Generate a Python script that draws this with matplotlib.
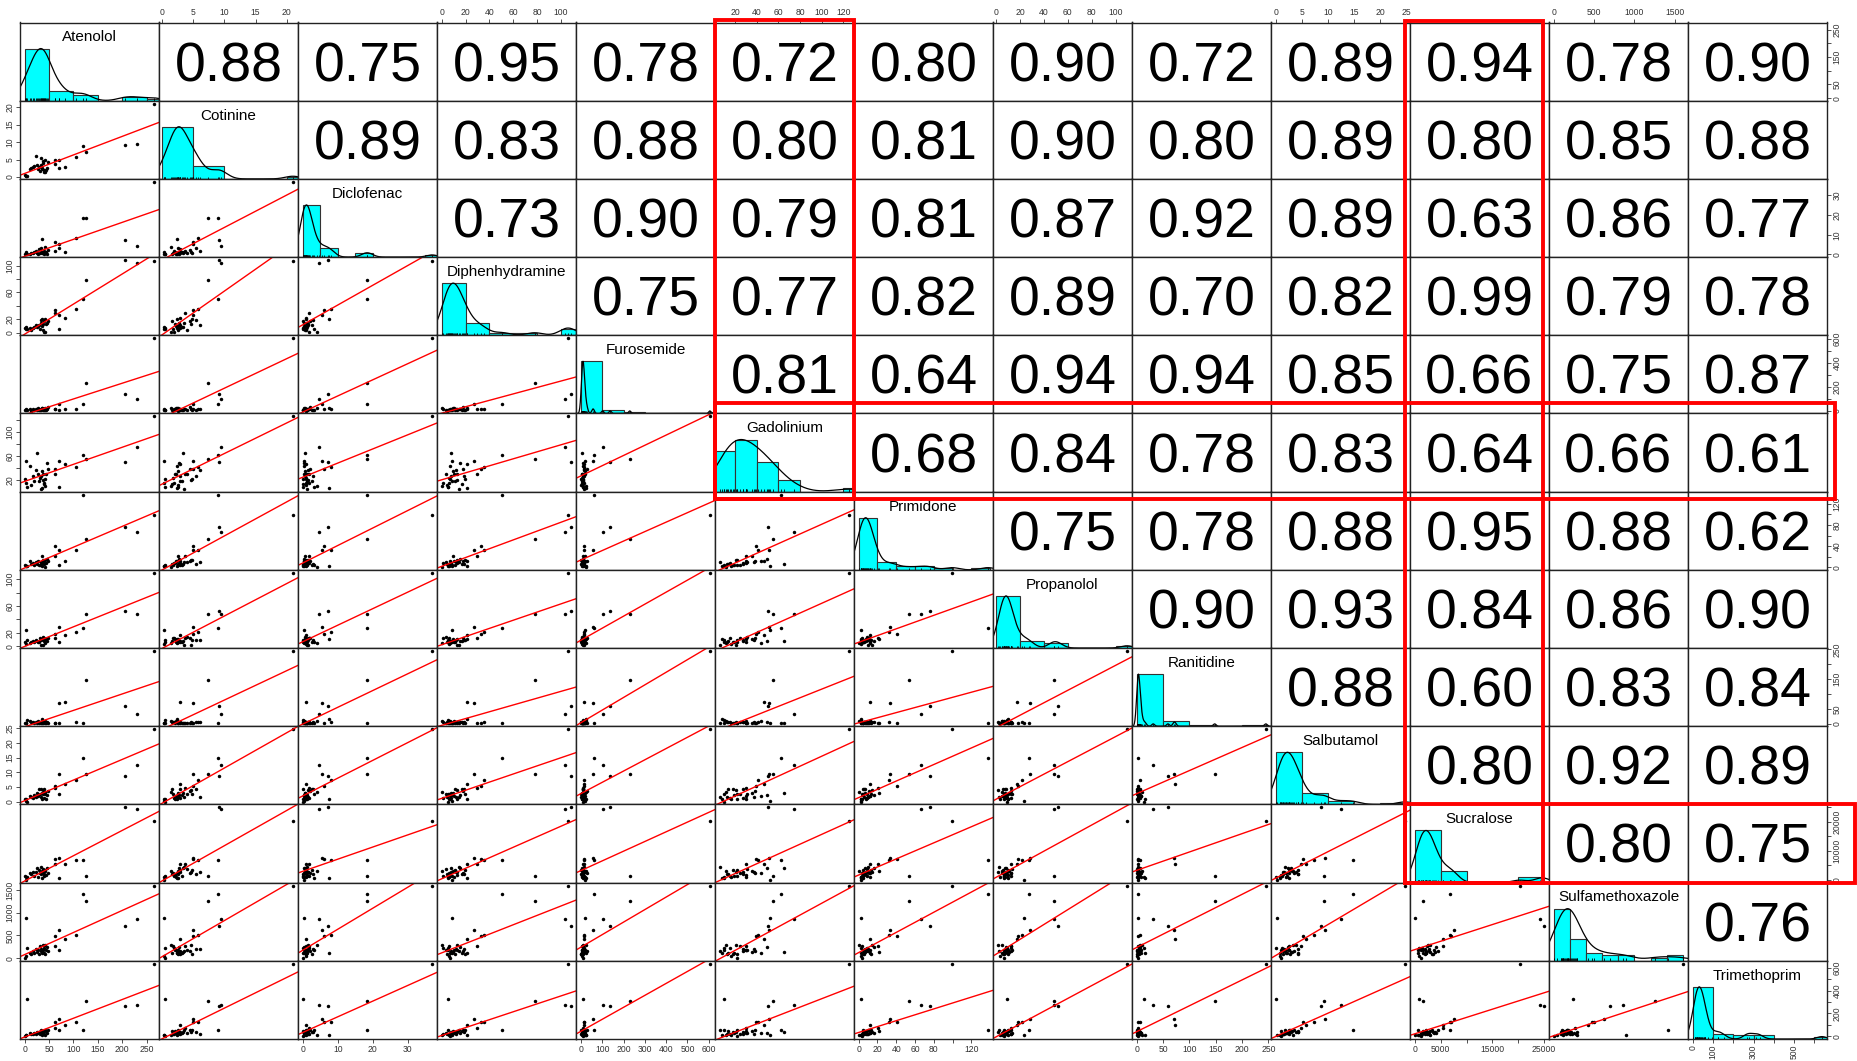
import numpy as np
import matplotlib
matplotlib.use("Agg")
import matplotlib.pyplot as plt
import matplotlib.transforms as mtransforms
from matplotlib.patches import Rectangle

plt.rcParams['font.family'] = ['Liberation Sans', 'DejaVu Sans']

names = ['Atenolol', 'Cotinine', 'Diclofenac', 'Diphenhydramine', 'Furosemide',
         'Gadolinium', 'Primidone', 'Propanolol', 'Ranitidine', 'Salbutamol',
         'Sucralose', 'Sulfamethoxazole', 'Trimethoprim']

# one value per sampling site, same site order in every list
atenolol = [2, 5, 1, 3, 11, 14, 17, 20, 23, 26, 28, 30, 31, 33, 34, 35, 36, 37, 38,
            39, 40, 41, 42, 44, 45, 48, 62, 63, 70, 71, 83, 105, 120, 125, 205, 230, 265]
cotinine = [0.3, 0.4, 0.5, 0.35, 2.4, 2.6, 2.8, 3.1, 6.1, 3.3, 2.2, 2.8, 1.8, 3.5, 5.4,
            2.5, 2.3, 4.6, 3.9, 1.5, 1.9, 4.8, 1.4, 2.0, 2.7, 4.4, 5.0, 3.6, 4.9, 2.5,
            2.9, 5.8, 9.0, 7.3, 9.2, 9.5, 21.0]
diclofenac = [0.3, 0.2, 0.1, 1.0, 0.4, 0.8, 0.6, 1.2, 1.5, 0.7, 0.3, 2.5, 0.9, 1.1, 3.0,
              0.5, 7.6, 1.4, 0.6, 0.2, 1.8, 0.9, 4.0, 1.3, 0.4, 2.2, 6.1, 1.8, 5.4, 3.2,
              1.0, 8.1, 18.5, 18.3, 7.1, 4.5, 36.9]
diphenhydramine = [8.4, 5.6, 7.0, 6.0, 6.5, 4.0, 7.5, 9.0, 12.0, 8.0, 10.0, 11.5, 6.0,
                   14.8, 18.3, 9.5, 20.8, 13.0, 3.9, 16.8, 0.9, 19.8, 0.3, 12.5, 15.0,
                   17.5, 33.2, 29.8, 26.8, 5.4, 21.3, 35.7, 50.7, 78.0, 108.5, 103.5, 106.5]
furosemide = [17, 8, 8, 3, 10, 0.5, 12, 6, 15, 4, 20, 9, 3, 14, 7, 18, 25, 11, 5, 8, 13,
              2, 22, 6, 10, 30, 15, 10, 54, 8, 12, 12, 59, 229, 137, 101, 605]
gadolinium = [52, 9.7, 22, 16, 44, 12, 27, 19, 37, 65, 30, 18, 24, 6, 27, 35.5, 8, 21,
              31, 13.5, 15, 22, 11, 30, 49, 38, 39, 30, 50.9, 9.6, 46.5, 41, 62, 55,
              50.4, 74, 125.2]
primidone = [2.9, 2.0, 4.0, 3.0, 11.7, 6.0, 8.0, 5.0, 9.5, 7.0, 12.0, 4.5, 3.5, 10.0,
             6.5, 21.9, 2.0, 14.0, 9.0, 5.5, 8.5, 13.0, 0.5, 7.5, 16.0, 11.0, 41.0, 20.6,
             33.3, 4.1, 12.4, 32.7, 137.5, 53.6, 75.9, 66.3, 99.4]
propanolol = [23.5, 9.0, 6.0, 3.0, 5.0, 6.0, 8.0, 6.0, 9.0, 7.0, 6.5, 5.5, 12.0, 2.0,
              8.5, 11.0, 10.0, 1.5, 13.0, 7.5, 12.5, 9.5, 4.5, 10.0, 8.0, 12.0, 18.5,
              12.0, 28.5, 6.0, 17.0, 21.5, 27.0, 48.5, 52.0, 48.0, 109.5]
ranitidine = [2.2, 13.4, 3.0, 1.0, 9.0, 4.0, 6.0, 2.0, 5.0, 3.0, 8.0, 1.5, 4.0, 2.5,
              6.0, 3.5, 16.8, 7.0, 1.0, 5.0, 4.5, 2.0, 10.0, 3.0, 6.0, 1.0, 3.0, 2.0,
              70.6, 3.0, 73.0, 5.6, 3.0, 148.0, 59.4, 31.4, 245.0]
salbutamol = [0.2, 0.1, 1.0, 0.8, 1.9, 1.5, 1.4, 2.2, 1.6, 3.0, 2.0, 4.2, 2.5, 1.8, 4.2,
              3.1, 0.9, 3.9, 2.6, 4.2, 1.2, 2.8, 3.3, 1.0, 2.4, 3.6, 5.3, 4.8, 9.5, 2.5,
              5.9, 7.4, 14.8, 9.3, 8.75, 12.5, 24.7]
sucralose = [60, 900, 1200, 900, 2250, 2000, 2825, 1500, 2825, 3970, 1100, 3500, 2400,
             4545, 1900, 3000, 700, 2600, 3800, 2100, 1300, 3300, 2900, 1600, 4000, 2200,
             7067, 5500, 7640, 530, 5350, 6838, 6838, 1500, 24950, 24270, 20256]
sulfamethoxazole = [893, 233, 5, 40, 107, 95, 150, 120, 200, 130, 178, 90, 271, 160,
                    210, 140, 120, 285, 180, 110, 230, 100, 285, 190, 250, 160, 478,
                    264, 621, 178, 428, 500, 1414, 1250, 700, 857, 1600]
trimethoprim = [13, 330, 0.5, 8, 25, 15, 19, 30, 22, 35, 28, 40, 20, 57, 33, 45, 10, 38,
                26, 48, 18, 52, 12, 42, 30, 55, 122, 72, 151, 57, 95, 125, 57, 312, 268,
                277, 638]

columns = [atenolol, cotinine, diclofenac, diphenhydramine, furosemide, gadolinium,
           primidone, propanolol, ranitidine, salbutamol, sucralose, sulfamethoxazole,
           trimethoprim]

# Pearson r, upper triangle row by row
cor_upper = [
    [0.88, 0.75, 0.95, 0.78, 0.72, 0.80, 0.90, 0.72, 0.89, 0.94, 0.78, 0.90],
    [0.89, 0.83, 0.88, 0.80, 0.81, 0.90, 0.80, 0.89, 0.80, 0.85, 0.88],
    [0.73, 0.90, 0.79, 0.81, 0.87, 0.92, 0.89, 0.63, 0.86, 0.77],
    [0.75, 0.77, 0.82, 0.89, 0.70, 0.82, 0.99, 0.79, 0.78],
    [0.81, 0.64, 0.94, 0.94, 0.85, 0.66, 0.75, 0.87],
    [0.68, 0.84, 0.78, 0.83, 0.64, 0.66, 0.61],
    [0.75, 0.78, 0.88, 0.95, 0.88, 0.62],
    [0.90, 0.93, 0.84, 0.86, 0.90],
    [0.88, 0.60, 0.83, 0.84],
    [0.80, 0.92, 0.89],
    [0.80, 0.75],
    [0.76],
]

tick_vals = [
    [0, 50, 100, 150, 200, 250],
    [0, 5, 10, 15, 20],
    [0, 10, 20, 30],
    [0, 20, 40, 60, 80, 100],
    [0, 100, 200, 300, 400, 500, 600],
    [20, 40, 60, 80, 100, 120],
    [0, 20, 40, 60, 80, 100, 120],
    [0, 20, 40, 60, 80, 100],
    [0, 50, 100, 150, 200, 250],
    [0, 5, 10, 15, 20, 25],
    [0, 5000, 10000, 15000, 20000, 25000],
    [0, 500, 1000, 1500],
    [0, 100, 200, 300, 400, 500, 600],
]
# labels on top/bottom axes (blank = dropped because of overlap)
xtick_text = [
    ['0', '50', '100', '150', '200', '250'],
    ['0', '5', '10', '15', '20'],
    ['0', '10', '20', '30'],
    ['0', '20', '40', '60', '80', '100'],
    ['0', '100', '200', '300', '400', '500', '600'],
    ['20', '40', '60', '80', '100', '120'],
    ['0', '20', '40', '60', '80', '', '120'],
    ['0', '20', '40', '60', '80', '100'],
    ['0', '50', '100', '150', '200', '250'],
    ['0', '5', '10', '15', '20', '25'],
    ['0', '5000', '', '15000', '', '25000'],
    ['0', '500', '1000', '1500'],
    ['0', '100', '', '300', '', '500', ''],
]
# labels on left/right axes
ytick_text = [
    ['0', '50', '', '150', '', '250'],
    ['0', '5', '10', '15', '20'],
    ['0', '10', '20', '30'],
    ['0', '20', '', '60', '', '100'],
    ['0', '', '200', '', '400', '', '600'],
    ['20', '', '60', '', '100', ''],
    ['0', '', '40', '', '80', '', '120'],
    ['0', '20', '', '60', '', '100'],
    ['0', '50', '', '150', '', '250'],
    ['0', '5', '10', '15', '20', '25'],
    ['0', '', '10000', '', '20000', ''],
    ['0', '500', '1000', '1500'],
    ['0', '', '200', '', '400', '', '600'],
]


def padded(v):
    lo, hi = min(v), max(v)
    d = 0.04 * (hi - lo)
    return lo - d, hi + d


def pretty_breaks(v, n):
    # same rule as R's pretty(), used by hist()
    lo, hi = min(v), max(v)
    cell = (hi - lo) / n
    u = 10 ** np.floor(np.log10(cell))
    unit = u
    h, h5 = 1.5, 0.5 + 1.5 * 1.5
    if 2 * u - cell < h * (cell - unit):
        unit = 2 * u
        if 5 * u - cell < h5 * (cell - unit):
            unit = 5 * u
            if 10 * u - cell < h * (cell - unit):
                unit = 10 * u
    start = np.floor(lo / unit + 1e-7) * unit
    stop = np.ceil(hi / unit - 1e-7) * unit
    return np.arange(start, stop + unit / 2, unit)


def density_curve(v):
    v = np.asarray(v, float)
    n = len(v)
    q75, q25 = np.percentile(v, [75, 25])
    bw = 1.06 * min(np.std(v, ddof=1), (q75 - q25) / 1.34) * n ** -0.2 * 1.2
    xs = np.linspace(v.min() - 3 * bw, v.max() + 3 * bw, 512)
    ys = np.exp(-0.5 * ((xs[:, None] - v[None, :]) / bw) ** 2).sum(axis=1)
    return xs, ys / ys.max()


W, H = 1858, 1061
gl, gr, gt, gb = 20, 1827, 22.5, 1039
fig, axes = plt.subplots(13, 13, figsize=(W / 100, H / 100), dpi=100)
fig.subplots_adjust(left=gl / W, right=gr / W, top=1 - gt / H, bottom=1 - gb / H,
                    wspace=0, hspace=0)

nv = len(names)
nbins = int(np.ceil(np.log2(len(atenolol)) + 1))

for i in range(nv):
    for j in range(nv):
        ax = axes[i][j]
        ax.set_autoscale_on(False)
        xv = np.asarray(columns[j], float)
        yv = np.asarray(columns[i], float)
        for sp in ax.spines.values():
            sp.set_linewidth(1.0)
            sp.set_color('#222222')
        if i == j:
            trans = mtransforms.blended_transform_factory(ax.transData, ax.transAxes)
            br = pretty_breaks(xv, nbins)
            idx = np.clip(np.searchsorted(br, xv, side='left') - 1, 0, len(br) - 2)
            counts = np.bincount(idx, minlength=len(br) - 1)
            for k in range(len(counts)):
                ax.add_patch(Rectangle((br[k], 0), br[k + 1] - br[k],
                                       counts[k] / counts.max() / 1.5,
                                       transform=trans, facecolor='cyan',
                                       edgecolor='#333333', lw=0.8))
            dx, dy = density_curve(xv)
            ax.plot(dx, dy / 1.5, color='black', lw=0.9, transform=trans)
            ax.vlines(xv, 0, 0.03, transform=trans, color='black', lw=0.6)
            ax.text(0.5, 0.81, names[i], transform=ax.transAxes, ha='center',
                    va='center', fontsize=11)
        elif i > j:
            ax.plot(xv, yv, 'o', ms=2.5, color='black', mec='none')
            slope, icpt = np.polyfit(xv, yv, 1)
            xs = np.array(padded(xv))
            ax.plot(xs, icpt + slope * xs, color='red', lw=1.0)
        else:
            r = cor_upper[i][j - i - 1]
            ax.text(0.5, 0.43, '%.2f' % r, transform=ax.transAxes, ha='center',
                    va='center', fontsize=40)
        ax.set_xlim(padded(xv))
        ax.set_ylim(padded(yv))

        ax.tick_params(which='both', direction='out', length=3, width=0.6,
                       labelsize=6.2, pad=1.2, colors='#333333',
                       bottom=False, top=False, left=False, right=False,
                       labelbottom=False, labeltop=False, labelleft=False,
                       labelright=False)
        ax.set_xticks([])
        ax.set_yticks([])
        if i == 0 and j % 2 == 1:
            ax.set_xticks(tick_vals[j], xtick_text[j])
            ax.tick_params(top=True, labeltop=True)
        if i == nv - 1 and j % 2 == 0:
            ax.set_xticks(tick_vals[j], xtick_text[j])
            ax.tick_params(bottom=True, labelbottom=True)
        if j == 0 and i % 2 == 1:
            ax.set_yticks(tick_vals[i], ytick_text[i])
            ax.tick_params(left=True, labelleft=True, labelrotation=90)
        if j == nv - 1 and i % 2 == 0:
            ax.set_yticks(tick_vals[i], ytick_text[i])
            ax.tick_params(right=True, labelright=True, labelrotation=90)
        for lab in ax.get_yticklabels():
            lab.set_va('center')

# highlighted Gadolinium and Sucralose rows/columns
cw = (gr - gl) / nv
rh = (gb - gt) / nv


def frame(x0, y0, x1, y1):
    fig.add_artist(Rectangle((x0 / W, 1 - y1 / H), (x1 - x0) / W, (y1 - y0) / H,
                             transform=fig.transFigure, fill=False, ec='red',
                             lw=2.8, clip_on=False))


g = names.index('Gadolinium')
s = names.index('Sucralose')
frame(gl + g * cw, gt - 2, gl + (g + 1) * cw, gt + (g + 1) * rh + 7)
frame(gl + g * cw, gt + g * rh - 10, 1835, gt + (g + 1) * rh + 7)
frame(gl + s * cw - 5, gt - 2, gl + (s + 1) * cw - 6, gt + (s + 1) * rh)
frame(gl + s * cw - 5, gt + s * rh, 1855, gt + (s + 1) * rh)

fig.savefig('out.png', dpi=100)
